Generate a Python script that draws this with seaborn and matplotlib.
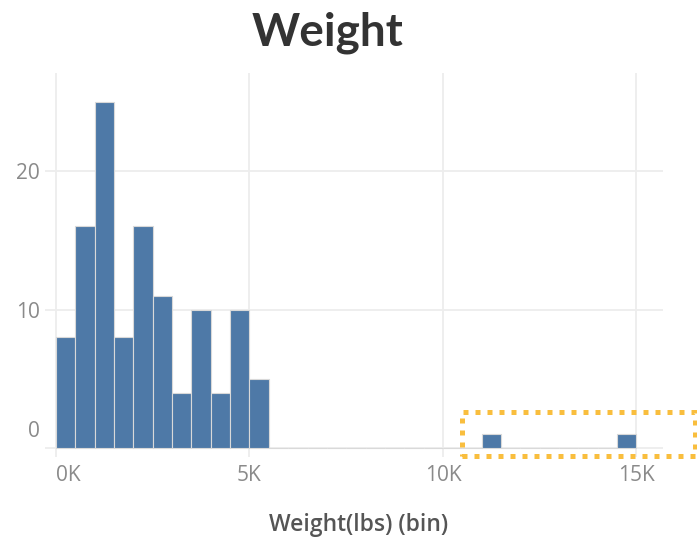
import numpy as np
import pandas as pd
import matplotlib
matplotlib.use("Agg")
import matplotlib.pyplot as plt
import matplotlib.patches as patches
import matplotlib.transforms as mtransforms
import seaborn as sns

# === Data (Tableau 500 lbs bins) ===
bin_starts = [0, 500, 1000, 1500, 2000, 2500, 3000, 3500, 4000, 4500, 5000, 11000, 14500]
counts = [8, 16, 25, 8, 16, 11, 4, 10, 4, 10, 5, 1, 1]
bin_edges = list(np.arange(0, 15001, 500))

x_ticks = [0, 5000, 10000, 15000]
x_labels = ["0K", "5K", "10K", "15K"]
y_ticks = [0, 10, 20]

df = pd.DataFrame({"weight": bin_starts, "count": counts})

sns.set_style("white")
plt.rcParams["font.family"] = ["Open Sans", "DejaVu Sans"]

fig = plt.figure(figsize=(6.97, 5.42), dpi=100)
ax = fig.add_axes([45 / 697, 1 - 457 / 542, 618 / 697, 384 / 542])

sns.histplot(data=df, x="weight", weights="count", bins=bin_edges, color="#4E79A7",
             edgecolor="#d9d9d9", linewidth=0.8, alpha=1, ax=ax, zorder=3)

ax.set_xlim(-284, 15685)
ax.set_ylim(-0.65, 27.08)
for s in ax.spines.values():
    s.set_visible(False)

ax.set_xticks(x_ticks)
ax.set_xticklabels(x_labels)
ax.set_yticks(y_ticks)
ax.set_yticklabels([str(v) for v in y_ticks])
ax.tick_params(axis="both", length=0, labelsize=15, labelcolor="#8a8a8a")
ax.tick_params(axis="x", pad=6)
ax.tick_params(axis="y", pad=3.6)
ax.get_xticklabels()[0].set_ha("left")
lbl0 = ax.get_yticklabels()[0]
lbl0.set_va("bottom")
lbl0.set_transform(lbl0.get_transform() +
                   mtransforms.ScaledTranslation(0, 4 / 72, fig.dpi_scale_trans))

ax.grid(True, color="#ededed", linewidth=1.3, zorder=0)
ax.set_axisbelow(True)
ax.set_xlabel("")
ax.set_ylabel("")

# highlight box around the outliers
box = patches.Rectangle((10490, -0.58), 6020, 3.18, fill=False,
                        edgecolor="#F9BE3E", linewidth=3.6,
                        linestyle=(0, (1, 1.4)), clip_on=False, zorder=5)
ax.add_patch(box)

fig.text(328 / 697, 1 - 45 / 542, "Weight", ha="center", va="baseline",
         fontsize=33, fontweight="bold", color="#333333", family="Lato")
fig.text(359 / 697, 1 - 525 / 542, "Weight(lbs) (bin)", ha="center", va="center",
         fontsize=16.5, color="#555555", fontweight="semibold")

fig.savefig("out.png", dpi=100)
